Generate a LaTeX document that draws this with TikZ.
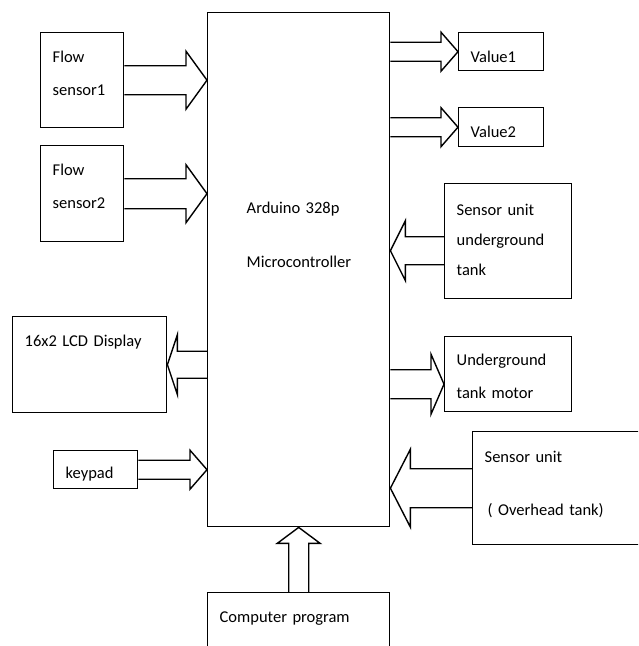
\documentclass[tikz,border=0pt]{standalone}
\usepackage{fontspec}
\setmainfont{Carlito}
\usetikzlibrary{calc}

\newcommand\lbl{\fontsize{16.5}{33}\selectfont}
% open block arrow: from, to, shaft half width, head half width, head length
\newcommand\blockarr[5]{%
  \coordinate (hb) at ($(#2)!#5!(#1)$);
  \draw[arr] ($(#1)!#3!90:(#2)$) -- ($(hb)!#3!-90:(#1)$) -- ($(hb)!#4!-90:(#1)$)
    -- (#2) -- ($(hb)!#4!90:(#1)$) -- ($(hb)!#3!90:(#1)$) -- ($(#1)!#3!-90:(#2)$);
}

\tikzset{
  blk/.style 2 args={draw, line width=1.4pt, anchor=north west, inner sep=0pt,
    align=left, font=\lbl, minimum width=#1pt, minimum height=#2pt,
    text width=#1pt-24pt, text height=30pt, text depth=#2pt-30pt},
  arr/.style={line width=1.4pt, line join=miter},
}

\begin{document}
\begin{tikzpicture}[x=1pt, y=-1pt]
\clip (0,0) rectangle (638,646);

\node[blk={182}{514}, text width=104pt, text height=201pt, text depth=313pt,
  font=\fontsize{16.5}{54}\selectfont] (mcu) at (207,12) {Arduino 328p\\Microcontroller};

\node[blk={83}{95}] (fs1) at (40,32) {Flow\\sensor1};
\node[blk={83}{96}] (fs2) at (40,145) {Flow\\sensor2};
\node[blk={154}{96}] (lcd) at (12,316) {16x2 LCD Display};
\node[blk={84}{38}, text height=28pt, text depth=10pt] (kp) at (53,450) {keypad};

\node[blk={85}{38}] (v1) at (458,32) {Value1};
\node[blk={85}{39}] (v2) at (458,107) {Value2};
\node[blk={127}{115}, text height=32pt, text depth=83pt,
  font=\fontsize{16.5}{30}\selectfont] (sug) at (444,183) {Sensor unit\\underground\\tank};
\node[blk={127}{75}, text height=29pt, text depth=46pt] (mot) at (444,336) {Underground\\tank motor};
\node[blk={190}{113}, text height=31pt, text depth=82pt,
  font=\fontsize{16.5}{53}\selectfont] (suo) at (472,431) {Sensor unit\\\hspace*{3pt}( Overhead tank)};
\node[blk={182}{80}] (cp) at (207,592) {Computer program};

% arrows
\blockarr{fs1.east}{fs1.east -| mcu.west}{14.5pt}{29pt}{21pt}
\blockarr{fs2.east}{fs2.east -| mcu.west}{15pt}{29pt}{21pt}
\blockarr{lcd.east -| mcu.west}{lcd.east}{13.5pt}{30pt}{10pt}
\blockarr{kp.east}{kp.east -| mcu.west}{9.5pt}{19.5pt}{17pt}

\blockarr{v1.west -| mcu.east}{v1.west}{9.5pt}{19.5pt}{17pt}
\blockarr{v2.west -| mcu.east}{v2.west}{9.5pt}{19.5pt}{17pt}

\coordinate (sugo) at ([yshift=-9.5pt]sug.west);
\coordinate (sugi) at (sugo -| mcu.east);
\blockarr{sugo}{sugi}{14pt}{30pt}{15pt}

\coordinate (moti) at ([yshift=-10pt]mot.west);
\coordinate (moto) at (moti -| mcu.east);
\blockarr{moto}{moti}{14.5pt}{30pt}{13pt}

\blockarr{suo.west}{suo.west -| mcu.east}{19.5pt}{39pt}{20pt}
\blockarr{cp.north}{mcu.south}{10pt}{21.5pt}{16pt}
\end{tikzpicture}
\end{document}
